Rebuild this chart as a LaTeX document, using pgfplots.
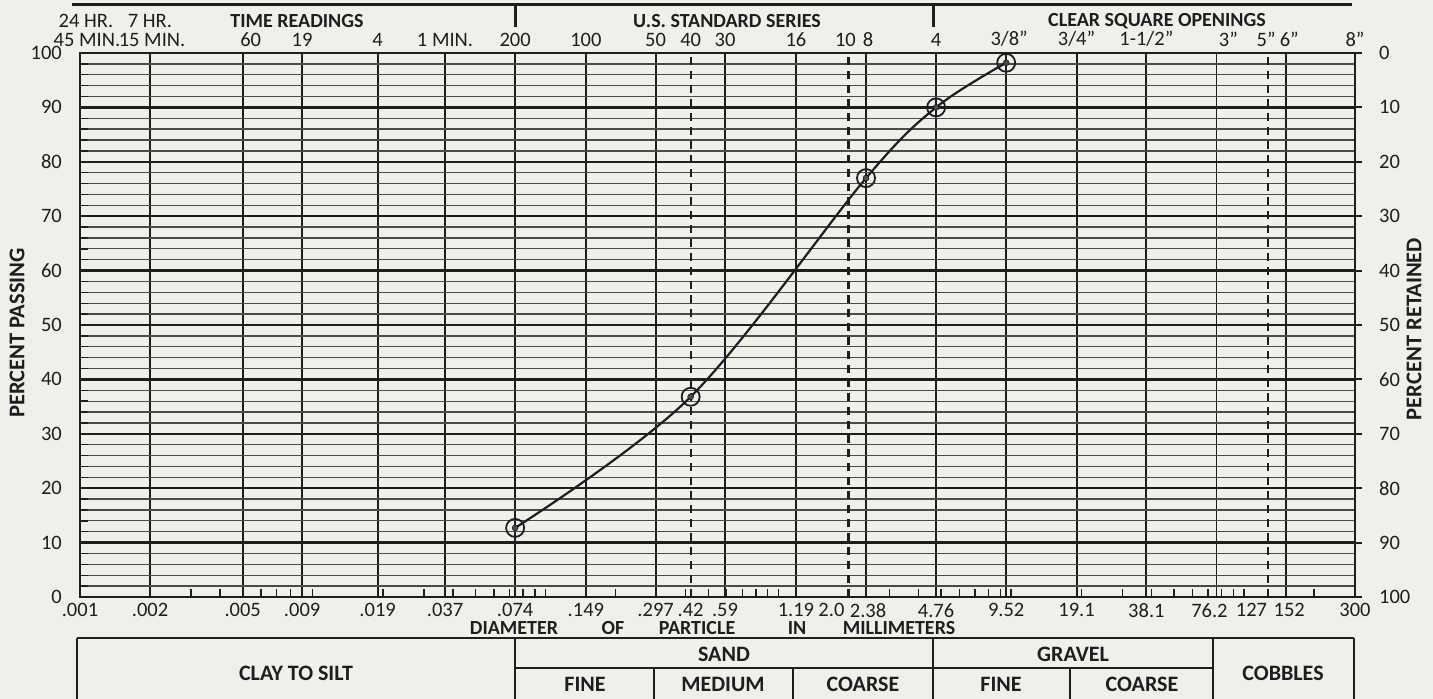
\documentclass[border=0pt]{standalone}
\usepackage{pgfplots}
\pgfplotsset{compat=1.18}
\usepackage{pgfplotstable}
\usepackage{fontspec}
\setmainfont{Carlito}
\definecolor{paper}{RGB}{239,239,236}
\definecolor{ink}{RGB}{30,30,30}
\definecolor{minorgrid}{RGB}{75,75,75}
\newcommand\tickfont{\fontsize{20.5bp}{24bp}\selectfont}
\newcommand\hdrfont{\fontsize{20bp}{24bp}\selectfont\bfseries}
\newcommand\tabfont{\fontsize{22bp}{26bp}\selectfont\bfseries}
\newcommand\labfont{\fontsize{22.5bp}{26bp}\selectfont\bfseries}
\pgfplotstableread{
d p
0.074 12.7
0.42 36.8
2.38 77.0
4.76 90.0
9.52 98.2
}\gradation
\tikzset{toplab/.style={font=\tickfont, text=ink, inner sep=0pt, anchor=south, yshift=6bp}}
\begin{document}
\begin{tikzpicture}[x=1bp,y=1bp]
\fill[paper] (0,0) rectangle (1433,699);
\begin{axis}[
  at={(80bp,102bp)}, anchor=south west, scale only axis,
  width=1275bp, height=544bp,
  xmode=log, xmin=0.001, xmax=300, ymin=0, ymax=100,
  axis line style={line width=2.4bp, ink},
  xtick={0.001,0.002,0.005,0.009,0.019,0.037,0.074,0.149,0.297,0.59,1.19,2.38,4.76,9.52,19.1,38.1,76.2,152,300},
  xticklabels={.001,.002,.005,.009,.019,.037,.074,.149,.297,.59,1.19,\makebox[0pt]{\kern4bp 2.38},4.76,9.52,19.1,38.1,\makebox[0pt]{76.2\kern14bp},\makebox[0pt]{\kern6bp 152},300},
  extra x ticks={0.42,2.0,127},
  extra x tick labels={.42,\makebox[0pt][r]{2.0\kern4bp},\makebox[0pt][r]{127\kern1bp}},
  extra x tick style={grid=none},
  minor xtick={0.003,0.004,0.006,0.007,0.008,0.01,0.02,0.03,0.04,0.05,0.06,0.07,0.08,0.09,0.1,0.2,0.3,0.4,0.5,0.6,0.7,0.8,0.9,1,2,3,4,5,6,7,8,9,10,20,30,40,50,60,70,80,90,100,200},
  xtick pos=bottom, ytick pos=left,
  ytick={0,10,20,30,40,50,60,70,80,90,100},
  yticklabels={0,10,20,30,40,50,60,70,80,90,100},
  minor ytick={2,4,6,8,12,14,16,18,22,24,26,28,32,34,36,38,42,44,46,48,52,54,56,58,62,64,66,68,72,74,76,78,82,84,86,88,92,94,96,98},
  xmajorgrids, yminorgrids,
  major grid style={line width=1.9bp, ink},
  minor grid style={line width=1.3bp, minorgrid},
  major tick length=0pt, minor tick length=8bp,
  minor tick style={line width=1.4bp, ink},
  tick align=inside,
  xticklabel style={font=\tickfont, text=ink, inner sep=0pt, anchor=north, yshift=-6bp},
  yticklabel style={font=\tickfont, text=ink, inner sep=0pt, anchor=east, xshift=-18bp},
  /pgf/number format/assume math mode=true,
  clip=false,
]
\pgfplotsinvokeforeach{10,20,30,40,50,60,70,80,90}{
  \draw[line width=2.5bp, ink] (axis cs:0.001,#1) -- (axis cs:300,#1);
}
\pgfplotsinvokeforeach{0.42,2.0,127}{
  \draw[line width=2.2bp, ink, dash pattern=on 8bp off 6bp] (axis cs:#1,0) -- (axis cs:#1,100);
}
% top scale labels (sieve sizes / time readings)
\node[toplab, xshift=7bp] at (axis cs:0.001,100) {45 MIN.};
\node[toplab, xshift=2bp] at (axis cs:0.002,100) {15 MIN.};
\node[toplab, xshift=8bp] at (axis cs:0.005,100) {60};
\node[toplab] at (axis cs:0.009,100) {19};
\node[toplab] at (axis cs:0.019,100) {4};
\node[toplab] at (axis cs:0.037,100) {1 MIN.};
\node[toplab] at (axis cs:0.074,100) {200};
\node[toplab] at (axis cs:0.149,100) {100};
\node[toplab] at (axis cs:0.297,100) {50};
\node[toplab] at (axis cs:0.42,100) {40};
\node[toplab] at (axis cs:0.59,100) {30};
\node[toplab] at (axis cs:1.19,100) {16};
\node[toplab, xshift=-3bp] at (axis cs:2.0,100) {10};
\node[toplab, xshift=2bp] at (axis cs:2.38,100) {8};
\node[toplab] at (axis cs:4.76,100) {4};
\node[toplab, xshift=3bp] at (axis cs:9.52,100) {3/8"};
\node[toplab] at (axis cs:19.1,100) {3/4"};
\node[toplab] at (axis cs:38.1,100) {1-1/2"};
\node[toplab, xshift=12bp] at (axis cs:76.2,100) {3"};
\node[toplab, xshift=-2bp] at (axis cs:127,100) {5"};
\node[toplab, xshift=3bp] at (axis cs:152,100) {6"};
\node[toplab] at (axis cs:300,100) {8"};
\addplot[line width=2.2bp, ink, smooth, tension=0.55] table[x=d,y=p]{\gradation};
\addplot[only marks, mark=o, mark size=9bp, mark options={line width=1.8bp, draw=ink}] table[x=d,y=p]{\gradation};
\addplot[only marks, mark=*, mark size=3bp, mark options={fill=ink!80, draw=none}] table[x=d,y=p]{\gradation};
\end{axis}
\begin{axis}[
  at={(80bp,102bp)}, anchor=south west, scale only axis,
  width=1275bp, height=544bp,
  xmode=log, xmin=0.001, xmax=300, ymin=0, ymax=100, y dir=reverse,
  axis x line*=top, axis y line*=right,
  axis line style={line width=2.4bp, ink},
  xtick=\empty, xminorticks=false, yminorticks=false,
  ytick={0,10,20,30,40,50,60,70,80,90,100},
  yticklabels={0,10,20,30,40,50,60,70,80,90,100},
  major tick length=7bp, tick align=outside,
  major tick style={line width=2bp, ink},
  yticklabel style={font=\tickfont, text=ink, inner sep=0pt, anchor=west, xshift=17bp},
  /pgf/number format/assume math mode=true,
]
\end{axis}
% header
\draw[line width=3bp, ink] (72,694) -- (1352,694);
\draw[line width=3bp, ink] (515,694) -- (515,672);
\draw[line width=3bp, ink] (933,694) -- (933,672);
\begin{scope}[every node/.style={inner sep=0pt, text=ink}]
\node[font=\tickfont] at (86,678) {24 HR.};
\node[font=\tickfont] at (150,678) {7 HR.};
\node[font=\hdrfont] at (297,678) {TIME READINGS};
\node[font=\hdrfont] at (727,678) {U.S. STANDARD SERIES};
\node[font=\hdrfont] at (1157,678) {CLEAR SQUARE OPENINGS};
% axis titles
\node[font=\labfont, rotate=90] at (17,366) {PERCENT PASSING};
\node[font=\labfont, rotate=90] at (1414,370) {PERCENT RETAINED};
% diameter caption
\node[font=\hdrfont] at (514,71) {DIAMETER};
\node[font=\hdrfont] at (613,71) {OF};
\node[font=\hdrfont] at (697,71) {PARTICLE};
\node[font=\hdrfont] at (797,71) {IN};
\node[font=\hdrfont] at (899,71) {MILLIMETERS};
% classification table
\draw[line width=2.6bp, ink] (77,61) -- (1354,61);
\draw[line width=2.6bp, ink] (515,31) -- (1213,31);
\foreach \xx in {77,515,933,1213,1354} {\draw[line width=2.6bp, ink] (\xx,61) -- (\xx,0);}
\foreach \xx in {654,793,1070} {\draw[line width=2.6bp, ink] (\xx,31) -- (\xx,0);}
\node[font=\tabfont] at (296,26) {CLAY TO SILT};
\node[font=\tabfont] at (724,45) {SAND};
\node[font=\tabfont] at (1073,45) {GRAVEL};
\node[font=\tabfont] at (585,15) {FINE};
\node[font=\tabfont] at (723,15) {MEDIUM};
\node[font=\tabfont] at (863,15) {COARSE};
\node[font=\tabfont] at (1001,15) {FINE};
\node[font=\tabfont] at (1142,15) {COARSE};
\node[font=\tabfont] at (1283,26) {COBBLES};
\end{scope}
\pgfresetboundingbox
\path[use as bounding box] (0,0) rectangle (1433,699);
\end{tikzpicture}
\end{document}
